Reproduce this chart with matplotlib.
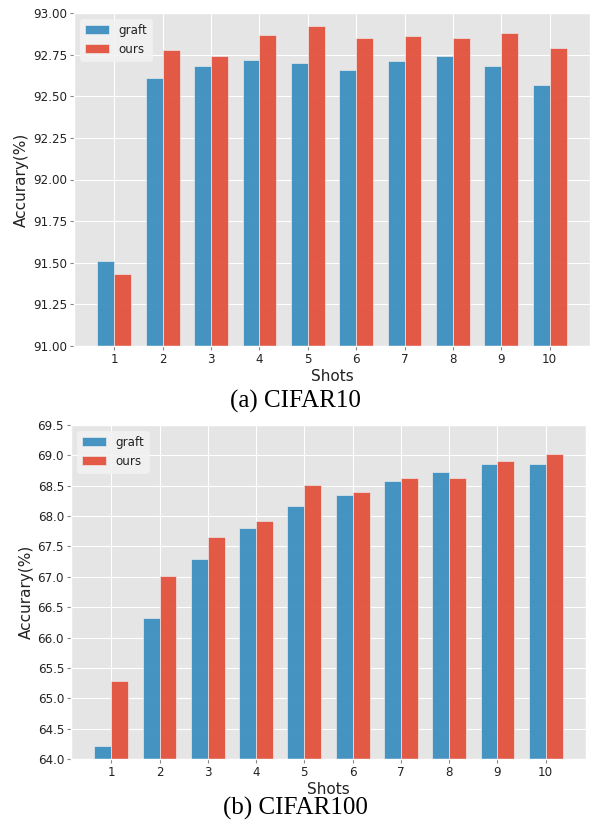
import numpy as np
import matplotlib
matplotlib.use("Agg")
import matplotlib.pyplot as plt

plt.style.use("ggplot")

shots = [1, 2, 3, 4, 5, 6, 7, 8, 9, 10]
series_names = ["graft", "ours"]

cifar10_graft = [91.51, 92.61, 92.68, 92.72, 92.70, 92.66, 92.71, 92.74, 92.68, 92.57]
cifar10_ours = [91.43, 92.78, 92.74, 92.87, 92.92, 92.85, 92.86, 92.85, 92.88, 92.79]

cifar100_graft = [64.22, 66.33, 67.29, 67.81, 68.16, 68.35, 68.57, 68.73, 68.86, 68.86]
cifar100_ours = [65.28, 67.02, 67.65, 67.92, 68.51, 68.40, 68.63, 68.63, 68.91, 69.02]

captions = ["(a) CIFAR10", "(b) CIFAR100"]

W, H = 590, 824
fig = plt.figure(figsize=(W / 100, H / 100), dpi=100)
fig.patch.set_facecolor("white")


def ax_rect(l, t, r, b):
    return [l / W, 1 - b / H, (r - l) / W, (b - t) / H]


def draw(ax, graft, ours, ylim, yticks, fmt):
    x = np.array(shots, dtype=float)
    w = 0.35
    ax.bar(x - w / 2, graft, w, label=series_names[0], color="#348ABD",
           alpha=0.9, edgecolor="#EEEEEE", linewidth=0.5)
    ax.bar(x + w / 2, ours, w, label=series_names[1], color="#E24A33",
           alpha=0.9, edgecolor="#EEEEEE", linewidth=0.5)
    ax.set_ylim(*ylim)
    ax.set_yticks(yticks)
    ax.set_yticklabels([fmt.format(v) for v in yticks], fontsize=8.6)
    ax.set_xticks(x)
    ax.set_xticklabels([str(s) for s in shots], fontsize=8.6)
    ax.tick_params(axis="both", length=3, color="#888888", pad=2)
    for lbl in ax.get_xticklabels() + ax.get_yticklabels():
        lbl.set_color("#222222")
    ax.set_xlabel("Shots", fontsize=11, color="#222222", labelpad=2)
    ax.set_ylabel("Accurary(%)", fontsize=11, color="#222222", labelpad=3)
    ax.grid(True, color="white", linewidth=0.8)
    ax.set_axisbelow(True)
    leg = ax.legend(loc="upper left", fontsize=8.6, facecolor="#F2F2F2",
                    framealpha=0.9, edgecolor="#F2F2F2")
    for t in leg.get_texts():
        t.set_color("#222222")


ax1 = fig.add_axes(ax_rect(74, 13, 590, 346))
draw(ax1, cifar10_graft, cifar10_ours, (91.0, 93.0),
     [91.0, 91.25, 91.5, 91.75, 92.0, 92.25, 92.5, 92.75, 93.0], "{:.2f}")

ax2 = fig.add_axes(ax_rect(71, 425, 586, 759))
draw(ax2, cifar100_graft, cifar100_ours, (64.0, 69.5),
     [64.0, 64.5, 65.0, 65.5, 66.0, 66.5, 67.0, 67.5, 68.0, 68.5, 69.0, 69.5], "{:.1f}")

fig.text(0.5, 1 - 401 / H, captions[0], ha="center", va="center",
         fontsize=18, family="Liberation Serif", color="black")
fig.text(0.5, 1 - 808 / H, captions[1], ha="center", va="center",
         fontsize=18, family="Liberation Serif", color="black")

fig.savefig("out.png", dpi=100, facecolor="white")
